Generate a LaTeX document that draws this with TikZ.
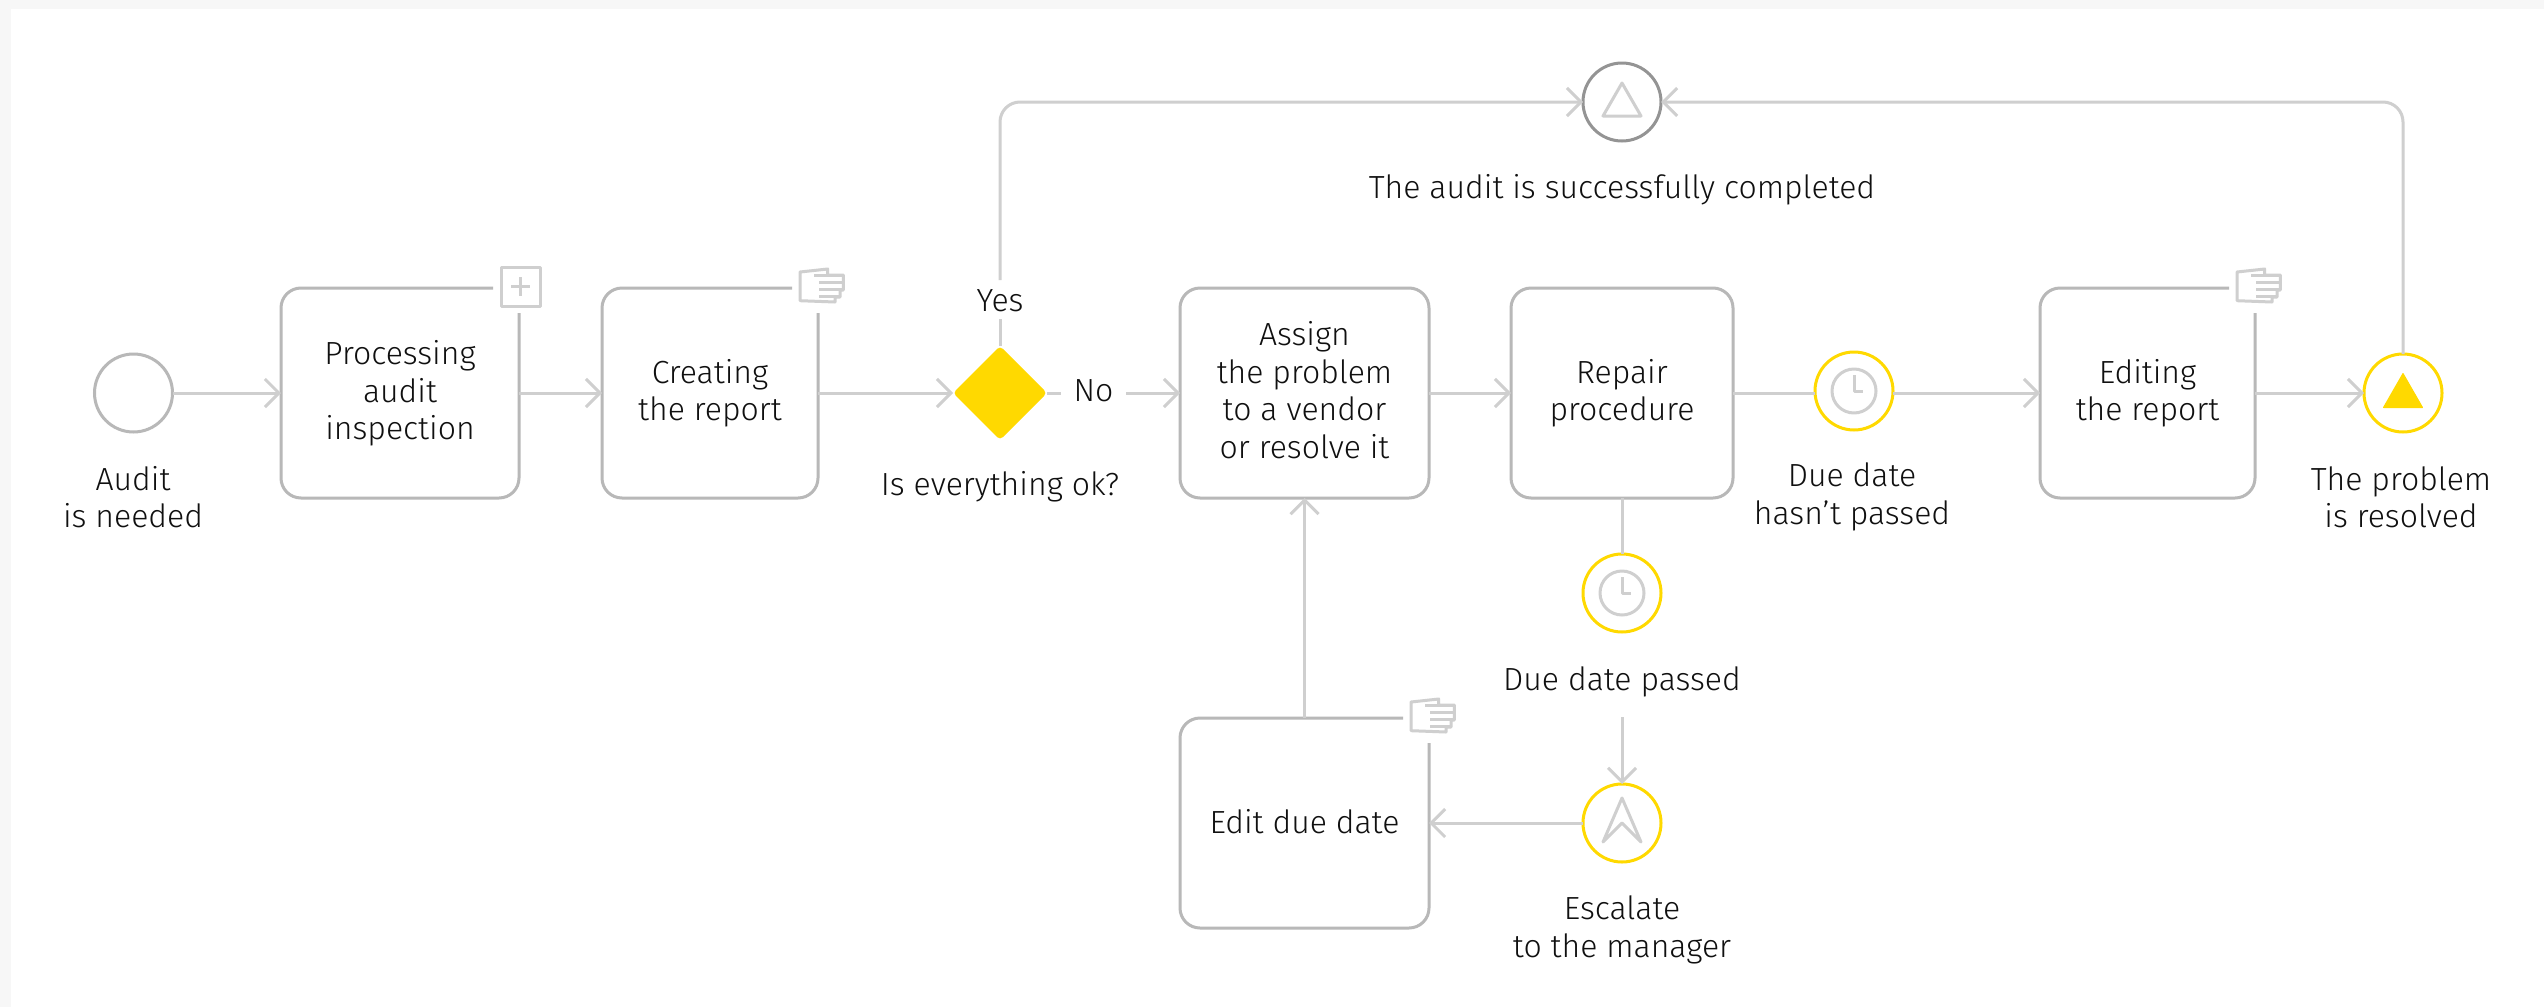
\documentclass[tikz,border=0pt]{standalone}
\usepackage{fontspec}
\setmainfont{Fira Sans Light}
\usetikzlibrary{arrows.meta,calc,shapes.geometric}
\definecolor{conn}{HTML}{CFCFCF}
\definecolor{bord}{HTML}{B8B8B8}
\definecolor{yel}{HTML}{FFD900}
\definecolor{txt}{HTML}{101010}
\tikzset{
 x=1pt,y=-1pt,
 lab/.style={inner sep=0pt,outer sep=0pt,align=center,text=txt,font=\fontsize{32}{37.5}\selectfont},
 task/.style={draw=bord,line width=3pt,rounded corners=20pt,inner sep=0pt,outer sep=0pt,lab},
 gaptask/.style={inner sep=0pt,outer sep=0pt,lab},
 outline/.style={draw=bord,line width=3pt,rounded corners=20pt},
 ev/.style={circle,inner sep=0pt,outer sep=0pt,minimum size=78pt,line width=3pt,fill=white},
 yev/.style={ev,draw=yel},
 flow/.style={draw=conn,line width=3pt},
 arr/.style={flow,-{Straight Barb[length=14pt,width=28pt,line width=3pt]}},
 icon/.style={draw=conn,line width=3pt,line join=round},
 handicon/.pic={
  \draw[icon] (-18,-16) -- (9.7,-19) -- (9.7,-13) -- (25.3,-13) -- (25.3,2) -- (22,2) -- (22,9) -- (17,9) -- (17,14) -- (-18,12.7) -- cycle;
  \draw[icon] (-3.7,-13) -- (25,-13) (1.3,-5.3) -- (25,-5.3) (1.3,1) -- (25,1) (1.3,8) -- (22,8);
 },
 plusicon/.pic={
  \draw[icon] (-18,-21) rectangle (21,18);
  \draw[icon] (1.5,-11) -- (1.5,8) (-8,-1.5) -- (11,-1.5);
 },
 clockicon/.pic={
  \draw[icon] (0,0) circle (22);
  \draw[icon] (0,-16) -- (0,0) -- (9,0);
 },
}
\newcommand{\gapbox}[1]{\draw[outline] ($(#1.north east)+(-26,0)$) -- (#1.north west) -- (#1.south west) -- (#1.south east) -- ($(#1.north east)+(0,25)$);}
\newcommand{\ls}[1]{\strut #1}
% first line of a box text: a taller strut lowers the block a little
\newcommand{\fl}[1]{\rule{0pt}{29.25pt}\strut #1}
\begin{document}
\begin{tikzpicture}
\useasboundingbox (0,0) rectangle (2544,1007);
\fill[black!3] (0,0) rectangle (2544,1007);
\fill[white] (11,9) rectangle (2544,1007);

% tasks
\node[gaptask,minimum width=238pt,minimum height=210pt] (t1) at (400,393) {\fl{Processing}\\\ls{audit}\\\ls{inspection}};
\node[gaptask,minimum width=216pt,minimum height=210pt] (t2) at (710,393) {\fl{Creating}\\\ls{the report}};
\node[task,minimum width=249pt,minimum height=210pt] (t3) at (1304.5,393) {\fl{Assign}\\\ls{the problem}\\\ls{to a vendor}\\\ls{or resolve it}};
\node[task,minimum width=222pt,minimum height=210pt] (t4) at (1622,393) {\fl{Repair}\\\ls{procedure}};
\node[gaptask,minimum width=215pt,minimum height=210pt] (t5) at (2147.5,393) {\fl{Editing}\\\ls{the report}};
\node[gaptask,minimum width=249pt,minimum height=210pt] (t6) at (1304.5,823) {\rule{0pt}{32.25pt}\ls{Edit due date}};
\gapbox{t1}\gapbox{t2}\gapbox{t5}\gapbox{t6}
\pic at (t1.north east) {plusicon};
\pic at (t2.north east) {handicon};
\pic at (t5.north east) {handicon};
\pic at (t6.north east) {handicon};

% events
\node[ev,draw=bord] (start) at (133.5,393) {};
\node[ev,draw=black!42] (top) at (1622,102) {};
\node[yev] (clk1) at (1854,391) {};
\node[yev] (clk2) at (1622,593) {};
\node[yev] (esc) at (1622,823) {};
\node[yev] (stop) at (2403,393) {};
\node[diamond,fill=yel,rounded corners=4pt,minimum width=94pt,minimum height=94pt,inner sep=0pt,outer sep=0pt] (gw) at (1000,393) {};

% event icons
\draw[icon] (1622,83) -- (1641,116) -- (1603,116) -- cycle;
\pic at (clk1) {clockicon};
\pic at (clk2) {clockicon};
\draw[icon] (1622,798) -- (1641,842) -- (1622,823) -- (1603,842) -- cycle;
\fill[yel,draw=yel,line width=1pt,line join=round] (2403,373.5) -- (2422.5,407.5) -- (2383.5,407.5) -- cycle;

% labels acting as connector stops
\node[lab,text height=31pt,text depth=8pt,anchor=base] (yes) at (1000,311) {Yes};
\node[lab,minimum width=65pt] (no) at (1093.5,394) {\ls{No}};
\node[lab,text height=47pt,text depth=27pt,anchor=base] (dp) at (1622,690) {Due date passed};

% plain labels
\node[lab] (l1) at (133,501.5) {\ls{Audit}\\\ls{is needed}};
\node[lab] (l2) at (1000,488) {\ls{Is everything ok?}};
\node[lab] (l3) at (1622,191) {\ls{The audit is successfully completed}};
\node[lab] (l4) at (1852,498) {\ls{Due date}\\\ls{hasn\char39 t passed}};
\node[lab] (l5) at (2401,501.5) {\ls{The problem}\\\ls{is resolved}};
\node[lab] (l6) at (1622,931) {\ls{Escalate}\\\ls{to the manager}};

% connectors
\draw[arr] (start) -- (t1.west |- start);
\draw[arr] (t1.east) -- (t2.west);
\draw[arr] (t2.east) -- (gw.west);
\draw[flow] (gw.east) -- (no.west |- gw.east);
\draw[arr] (no.east |- t3.west) -- (t3.west);
\draw[flow] (gw.north) -- (yes.south);
\draw[arr,rounded corners=20pt] (yes.north) |- (top.west);
\draw[arr,rounded corners=20pt] (stop.north) |- (top.east);
\draw[arr] (t3.east) -- (t4.west);
\draw[flow] (t4.east) -- (clk1.west |- t4.east);
\draw[arr] (clk1.east |- t5.west) -- (t5.west);
\draw[arr] (t5.east) -- (stop.west);
\draw[flow] (t4.south) -- (clk2.north);
\draw[arr] (dp.south) -- (esc.north);
\draw[arr] (esc.west) -- (t6.east);
\draw[arr] (t6.north) -- (t3.south);
\end{tikzpicture}
\end{document}
